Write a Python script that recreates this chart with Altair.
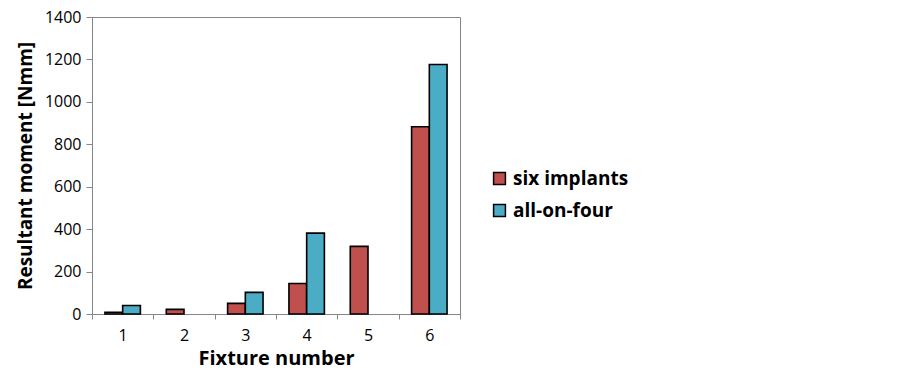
import altair as alt
import pandas as pd

fixtures = ["1", "2", "3", "4", "5", "6"]
six_implants = [8, 22, 50, 144, 319, 883]
all_on_four = [40, 0, 102, 381, 0, 1176]
series_names = ["six implants", "all-on-four"]
colors = ["#C0504D", "#4BACC6"]

rows = []
for i, f in enumerate(fixtures):
    rows.append({"fixture": f, "series": series_names[0], "value": six_implants[i]})
    rows.append({"fixture": f, "series": series_names[1], "value": all_on_four[i]})
df = pd.DataFrame(rows)

FONT = "Open Sans"

chart = alt.Chart(df).transform_filter(
    alt.datum.value > 0
).mark_bar(stroke="black", strokeWidth=1.6).encode(
    x=alt.X("fixture:N", sort=fixtures,
            scale=alt.Scale(paddingInner=0, paddingOuter=0),
            axis=alt.Axis(title="Fixture number", labelAngle=0, tickBand="extent",
                          labelFont=FONT, labelFontSize=16, labelColor="black",
                          titleFont=FONT, titleFontSize=20, titleFontWeight="bold",
                          titleColor="black", titlePadding=5,
                          domainColor="#868686", tickColor="#868686", tickSize=5,
                          labelPadding=8)),
    xOffset=alt.XOffset("series:N", sort=series_names,
                        scale=alt.Scale(paddingInner=0, paddingOuter=0.73)),
    y=alt.Y("value:Q",
            scale=alt.Scale(domain=[0, 1400], nice=False),
            axis=alt.Axis(title="Resultant moment [Nmm]", values=list(range(0, 1401, 200)),
                          format="d",
                          grid=False, labelFont=FONT, labelFontSize=16, labelColor="black",
                          titleFont=FONT, titleFontSize=19, titleFontWeight="bold",
                          titleColor="black", titlePadding=9,
                          domainColor="#868686", tickColor="#868686", tickSize=6,
                          labelPadding=5)),
    color=alt.Color("series:N", sort=series_names,
                    scale=alt.Scale(domain=series_names, range=colors),
                    legend=alt.Legend(title=None, orient="none", legendX=398, legendY=152,
                                      symbolType="square", symbolSize=140,
                                      symbolStrokeColor="black", symbolStrokeWidth=1.5,
                                      labelFont=FONT, labelFontSize=19,
                                      labelFontWeight="bold", labelColor="black",
                                      rowPadding=12, labelOffset=4)),
).properties(
    width=368, height=297,
    autosize=alt.AutoSizeParams(type="none"),
    padding={"left": 84, "top": 9, "right": 419, "bottom": 56},
).configure_view(
    stroke="#868686", strokeWidth=1
)

chart.save("out.html", embed_options={"renderer": "svg", "actions": False})
